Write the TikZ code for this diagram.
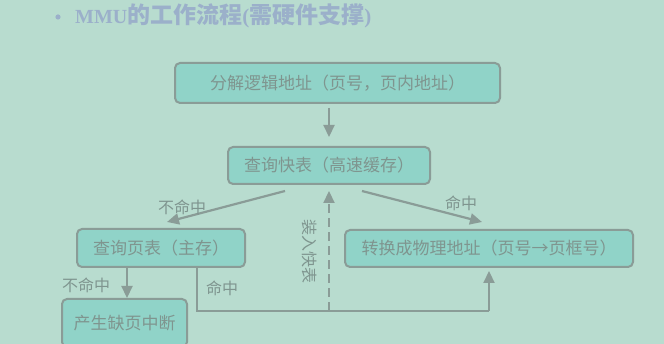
\documentclass[tikz,border=0pt]{standalone}
\usepackage{fontspec}
\setmainfont{Noto Sans CJK SC}
\newfontfamily\latinserif{Liberation Serif}
\usetikzlibrary{arrows.meta}
\definecolor{slidebg}{HTML}{B8DCCF}
\definecolor{boxfill}{HTML}{90D3C8}
\definecolor{linegray}{HTML}{8A9C97}
\definecolor{txtgray}{HTML}{7F958F}
\definecolor{titleblue}{HTML}{9BB0CA}
\begin{document}
\begin{tikzpicture}[x=1pt,y=-1pt,
    flowbox/.style={draw=linegray,line width=2pt,fill=boxfill,rounded corners=5pt,
        text=txtgray,font=\fontsize{17}{17}\selectfont,inner sep=0pt},
    link/.style={draw=linegray,line width=2.2pt,-{Triangle[length=12pt,width=11pt]}},
    tag/.style={text=txtgray,font=\fontsize{16}{16}\selectfont,inner sep=0pt}]
    \clip (0,0) rectangle (664,344);
    \fill[slidebg] (0,0) rectangle (664,344);
    % title line
    \fill[titleblue] (58,17) circle (2.6pt) coordinate (dot);
    \node[text=titleblue,anchor=west,inner sep=0pt] (title) at (75,16)
        {{\latinserif\bfseries\fontsize{20}{20}\selectfont MMU}{\bfseries\fontsize{23}{23}\selectfont 的工作流程}{\latinserif\bfseries\fontsize{21}{21}\selectfont(}{\bfseries\fontsize{23}{23}\selectfont 需硬件支撑}{\latinserif\bfseries\fontsize{21}{21}\selectfont)}};
    % boxes
    \node[flowbox,minimum width=325pt,minimum height=40pt] (split) at (337.5,83) {分解逻辑地址（页号，页内地址）};
    \node[flowbox,minimum width=202pt,minimum height=37pt] (fast) at (329,165.5) {查询快表（高速缓存）};
    \node[flowbox,minimum width=168pt,minimum height=38pt] (page) at (161,248) {查询页表（主存）};
    \node[flowbox,minimum width=125pt,minimum height=48pt] (fault) at (124.5,323) {产生缺页中断};
    \node[flowbox,minimum width=288pt,minimum height=37pt] (conv) at (489,248.5) {转换成物理地址（页号→页框号）};
    \coordinate (low) at (0,311);
    % arrows
    \draw[link,shorten <=4pt,shorten >=9pt] (split.south -| fast.north) -- (fast.north);
    \draw[link] ([xshift=-44pt,yshift=-6pt]fast.south) -- ([xshift=6pt,yshift=6pt]page.north);
    \draw[link] ([xshift=33pt,yshift=-6pt]fast.south) -- ([xshift=-7pt,yshift=7pt]conv.north);
    \draw[link] ([xshift=-34pt]page.south) -- ([xshift=-34pt]page.south |- fault.north);
    \draw[link,-] ([xshift=36pt]page.south) |- (low -| conv.south);
    \draw[link,shorten >=3pt] (low -| conv.south) -- (conv.south);
    \draw[link,dash pattern=on 9pt off 5pt] (low -| fast.south) -- ([yshift=-6pt]fast.south);
    % labels
    \node[tag] (miss1) at (182,207) {不命中};
    \node[tag] (hit1) at (461,203) {命中};
    \node[tag] (miss2) at (86,285) {不命中};
    \node[tag] (hit2) at (222,288) {命中};
    \node[tag,rotate=-90] (load) at (310,252) {装入快表};
\end{tikzpicture}
\end{document}
